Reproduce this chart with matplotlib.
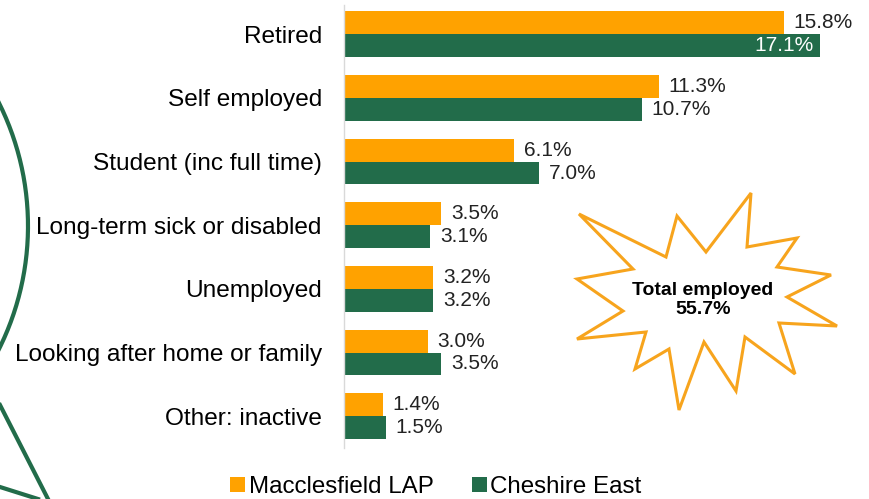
import matplotlib.pyplot as plt
from matplotlib.patches import Polygon
from matplotlib.lines import Line2D
import numpy as np

categories = ['Retired', 'Self employed', 'Student (inc full time)',
              'Long-term sick or disabled', 'Unemployed',
              'Looking after home or family', 'Other: inactive']
macclesfield = [15.8, 11.3, 6.1, 3.5, 3.2, 3.0, 1.4]
cheshire_east = [17.1, 10.7, 7.0, 3.1, 3.2, 3.5, 1.5]
series_names = ['Macclesfield LAP', 'Cheshire East']
total_employed = 55.7

ORANGE = '#FFA200'
GREEN = '#226C4A'
W, H = 870, 499

plt.rcParams['font.family'] = ['Liberation Sans', 'DejaVu Sans']


def fp(x, y):
    # pixel position (top-left origin) -> figure fraction
    return x / W, 1 - y / H


fig = plt.figure(figsize=(W / 100, H / 100), dpi=100)
ax = fig.add_axes([344 / W, 1 - 448 / H, 1 - 344 / W, (448 - 5) / H])

y = np.arange(len(categories))
h = 0.36
bars_m = ax.barh(y - 0.18, macclesfield, height=h, color=ORANGE, label=series_names[0])
bars_c = ax.barh(y + 0.18, cheshire_east, height=h, color=GREEN, label=series_names[1])

xmax = (W - 344) / 27.85
ax.set_xlim(0, xmax)
ax.set_ylim(6.5, -0.46)
ax.set_yticks(y)
ax.set_yticklabels(categories, fontsize=17.6)
ax.tick_params(axis='y', length=0, pad=16)
ax.set_xticks([])
for side in ['top', 'right', 'bottom']:
    ax.spines[side].set_visible(False)
ax.spines['left'].set_color('#D9D9D9')
ax.spines['left'].set_linewidth(1)

for i, v in enumerate(macclesfield):
    ax.annotate(f'{v:.1f}%', (v, y[i] - 0.18), xytext=(7, 0), textcoords='offset points',
                va='center', ha='left', fontsize=15, color='#222222')
for i, v in enumerate(cheshire_east):
    if v > 16:
        ax.annotate(f'{v:.1f}%', (v, y[i] + 0.18), xytext=(-4.5, 0), textcoords='offset points',
                    va='center', ha='right', fontsize=15, color='white')
    else:
        ax.annotate(f'{v:.1f}%', (v, y[i] + 0.18), xytext=(7, 0), textcoords='offset points',
                    va='center', ha='left', fontsize=15, color='#222222')

fig.legend(handles=[bars_m, bars_c], loc='center', bbox_to_anchor=fp(436, 487),
           ncol=2, frameon=False, fontsize=17.4, handlelength=0.6, handleheight=0.6,
           handletextpad=0.15, columnspacing=1.6, borderpad=0)

# starburst callout
star_px = [(579, 214), (666, 257), (677, 216), (706, 252), (751, 193), (747, 247),
           (797, 238), (777, 267), (831, 275), (787, 297), (837, 326), (779, 323),
           (795, 374), (745, 337), (736, 391), (704, 342), (679, 410), (669, 349),
           (635, 369), (646, 332), (577, 339), (623, 311), (577, 279), (633, 269)]
star = Polygon([fp(x, yy) for x, yy in star_px], closed=True, transform=fig.transFigure,
               facecolor='white', edgecolor='#F7A41D', linewidth=2.2, joinstyle='miter')
fig.patches.append(star)
fig.text(*fp(703, 300), f'Total employed\n{total_employed}%', ha='center', va='center',
         fontsize=14, fontweight='bold', linespacing=1.1)

# decorative green strokes on the left
theta = np.linspace(-np.pi / 2, np.pi / 2, 200)
cx, cy, r = -247.4, 226, 275.4
arc_x = cx + r * np.cos(theta)
arc_y = cy + r * np.sin(theta)
pts = [fp(a, b) for a, b in zip(arc_x, arc_y)]
fig.lines.append(Line2D([p[0] for p in pts], [p[1] for p in pts], transform=fig.transFigure,
                        color=GREEN, linewidth=3))
for (x0, y0), (x1, y1) in [((0, 405), (48, 499)), ((0, 487), (38, 499))]:
    a, b = fp(x0, y0), fp(x1, y1)
    fig.lines.append(Line2D([a[0], b[0]], [a[1], b[1]], transform=fig.transFigure,
                            color=GREEN, linewidth=3))

fig.savefig('out.png', dpi=100)
